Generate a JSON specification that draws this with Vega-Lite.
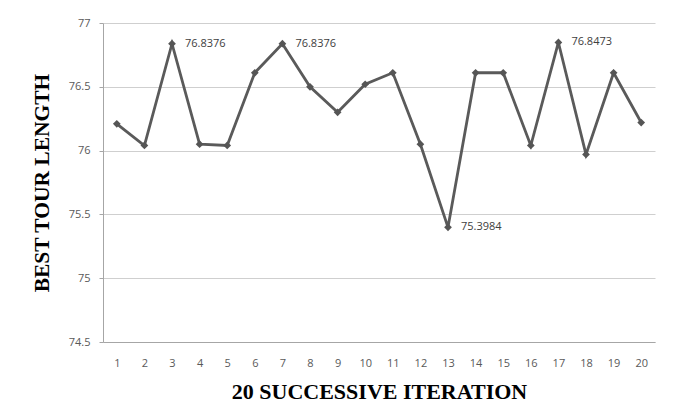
{
  "$schema": "https://vega.github.io/schema/vega-lite/v6.json",
  "width": 552,
  "height": 319,
  "autosize": {"type": "none"},
  "padding": {"left": 103, "top": 23, "right": 23, "bottom": 77},
  "background": "white",
  "config": {
    "view": {"stroke": null},
    "font": "Open Sans"
  },
  "data": {
    "values": [
      {"iteration": 1, "length": 76.21},
      {"iteration": 2, "length": 76.04},
      {"iteration": 3, "length": 76.8376, "label": "76.8376"},
      {"iteration": 4, "length": 76.05},
      {"iteration": 5, "length": 76.04},
      {"iteration": 6, "length": 76.61},
      {"iteration": 7, "length": 76.8376, "label": "76.8376"},
      {"iteration": 8, "length": 76.50},
      {"iteration": 9, "length": 76.30},
      {"iteration": 10, "length": 76.52},
      {"iteration": 11, "length": 76.61},
      {"iteration": 12, "length": 76.05},
      {"iteration": 13, "length": 75.3984, "label": "75.3984"},
      {"iteration": 14, "length": 76.61},
      {"iteration": 15, "length": 76.61},
      {"iteration": 16, "length": 76.04},
      {"iteration": 17, "length": 76.8473, "label": "76.8473"},
      {"iteration": 18, "length": 75.97},
      {"iteration": 19, "length": 76.61},
      {"iteration": 20, "length": 76.22}
    ]
  },
  "encoding": {
    "x": {
      "field": "iteration",
      "type": "ordinal",
      "scale": {"type": "point", "padding": 0.5},
      "axis": {
        "title": "20 SUCCESSIVE ITERATION",
        "titleFont": "Liberation Serif",
        "titleFontSize": 22,
        "titleFontWeight": "bold",
        "titleColor": "#000000",
        "titlePadding": 13,
        "labelAngle": 0,
        "labelFontSize": 11,
        "labelColor": "#595959",
        "labelPadding": 15,
        "ticks": false,
        "domainColor": "#a6a6a6",
        "domainWidth": 1
      }
    },
    "y": {
      "field": "length",
      "type": "quantitative",
      "scale": {"domain": [74.5, 77], "nice": false, "zero": false},
      "axis": {
        "title": "BEST TOUR LENGTH",
        "titleFont": "Liberation Serif",
        "titleFontSize": 21.5,
        "titleFontWeight": "bold",
        "titleColor": "#000000",
        "titlePadding": 15,
        "values": [74.5, 75, 75.5, 76, 76.5, 77],
        "labelExpr": "datum.value + ''",
        "labelFontSize": 11,
        "labelColor": "#595959",
        "labelPadding": 9,
        "tickSize": 4,
        "tickColor": "#a6a6a6",
        "domainColor": "#a6a6a6",
        "gridColor": "#cfcfcf",
        "grid": true
      }
    }
  },
  "layer": [
    {
      "mark": {"type": "line", "color": "#5a5a5a", "strokeWidth": 2.8}
    },
    {
      "mark": {"type": "point", "shape": "diamond", "filled": true, "color": "#555555", "size": 60, "opacity": 1}
    },
    {
      "transform": [{"filter": "isValid(datum.label)"}],
      "mark": {"type": "text", "align": "left", "baseline": "middle", "dx": 13, "fontSize": 11, "color": "#404040"},
      "encoding": {"text": {"field": "label"}}
    }
  ]
}
